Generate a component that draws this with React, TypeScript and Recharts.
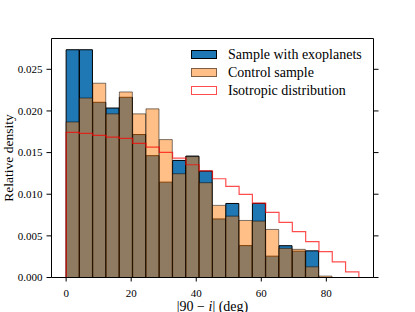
import React from 'react';
import { ComposedChart, Bar, Line, XAxis, YAxis, Legend } from 'recharts';

const binEdges = [0, 4.09, 8.18, 12.27, 16.36, 20.45, 24.55, 28.64, 32.73, 36.82, 40.91, 45, 49.09, 53.18, 57.27, 61.36, 65.45, 69.55, 73.64, 77.73, 81.82, 85.91, 90];
const sampleWithExoplanets = [0.02735, 0.02735, 0.02104, 0.02035, 0.02164, 0.01717, 0.01463, 0.01145, 0.01406, 0.01458, 0.01278, 0.00703, 0.00889, 0.00383, 0.0089, 0.00256, 0.00382, 0.00316, 0.0032, 0, 0, 0];
const controlSample = [0.01868, 0.02155, 0.02333, 0.01965, 0.02228, 0.01965, 0.02025, 0.01656, 0.01246, 0.01452, 0.01138, 0.00866, 0.00737, 0.00685, 0.00677, 0.00577, 0.0035, 0.00338, 0.00128, 0.00017, 0, 0];
const isotropic = [0.01742, 0.0173, 0.01706, 0.01686, 0.0167, 0.0161, 0.01566, 0.01502, 0.01434, 0.01354, 0.0128, 0.01186, 0.01095, 0.00999, 0.00892, 0.00783, 0.00663, 0.00551, 0.00431, 0.00311, 0.00188, 0.00067];
const xTicks = [0, 20, 40, 60, 80];
const yTicks = [0, 0.005, 0.01, 0.015, 0.02, 0.025];
const legendItems = ['Sample with exoplanets', 'Control sample', 'Isotropic distribution'];

const barData = sampleWithExoplanets.map((v, i) => ({
  x: (binEdges[i] + binEdges[i + 1]) / 2,
  sample: v,
  control: controlSample[i],
}));
const stepData = [
  { x: binEdges[0], iso: 0 },
  ...isotropic.map((v, i) => ({ x: binEdges[i], iso: v })),
  { x: binEdges[binEdges.length - 1], iso: 0 },
];

const FONT = 'Liberation Serif, DejaVu Serif, serif';
const X_DOMAIN: [number, number] = [-4.5, 94.5];
const Y_DOMAIN: [number, number] = [0, 0.0287];

const patchStyles: React.CSSProperties[] = [
  { background: '#1f77b4', border: '1px solid #000' },
  { background: 'rgba(255,127,14,0.5)', border: '1px solid rgba(0,0,0,0.5)' },
  { background: '#fff', border: '1px solid rgba(255,0,0,0.7)' },
];

const LegendContent = () => (
  <div style={{ fontFamily: FONT, fontSize: 14, color: '#000' }}>
    {legendItems.map((name, i) => (
      <div key={name} style={{ display: 'flex', alignItems: 'center', height: 18, whiteSpace: 'nowrap' }}>
        <div style={{ width: 26, height: 9, boxSizing: 'border-box', flex: 'none', ...patchStyles[i] }} />
        <span style={{ marginLeft: 11, lineHeight: '18px', fontFamily: FONT }}>{name}</span>
      </div>
    ))}
  </div>
);

const YLabel = () => {
  const x = 12.5;
  const y = 38.5 + 239 / 2;
  return (
    <text x={x} y={y} transform={`rotate(-90, ${x}, ${y})`} textAnchor="middle" style={{ fontFamily: FONT, fontSize: 13.5 }} fill="#000">
      Relative density
    </text>
  );
};

const XLabel = () => {
  const x = 51.5 + 322 / 2;
  const y = 310.5;
  return (
    <text x={x} y={y} textAnchor="middle" style={{ fontFamily: FONT, fontSize: 14 }} fill="#000">
      <tspan>|90 − </tspan>
      <tspan fontStyle="italic">i</tspan>
      <tspan>| (deg)</tspan>
    </text>
  );
};

const NoTick = () => <g />;

export default function App() {
  const tickStyle = { fill: '#000', fontSize: 11, fontFamily: FONT, style: { fontFamily: FONT } };
  return (
    <div style={{ position: 'absolute', left: 0, top: 0, width: 415, height: 312, fontFamily: FONT }}>
      <ComposedChart
        width={415}
        height={312}
        data={barData}
        margin={{ top: 37.5, right: 0, bottom: 0, left: 0 }}
        barCategoryGap={0}
        barGap={0}
        style={{ fontFamily: FONT }}
      >
        <XAxis
          xAxisId="blue"
          dataKey="x"
          type="number"
          domain={X_DOMAIN}
          ticks={xTicks}
          allowDataOverflow
          height={34.5}
          stroke="#000"
          tickSize={4}
          tickMargin={8}
          tick={tickStyle}
          label={<XLabel />}
        />
        <XAxis
          xAxisId="top"
          orientation="top"
          dataKey="x"
          type="number"
          domain={X_DOMAIN}
          ticks={xTicks}
          allowDataOverflow
          height={1}
          stroke="#000"
          tick={NoTick}
          tickLine={false}
        />
        <XAxis xAxisId="red" dataKey="x" type="number" domain={X_DOMAIN} allowDataOverflow hide />
        <YAxis
          yAxisId="left"
          type="number"
          domain={Y_DOMAIN}
          ticks={yTicks}
          allowDataOverflow
          width={51.5}
          stroke="#000"
          tickSize={5}
          tickMargin={4}
          tick={tickStyle}
          tickFormatter={(v: number) => v.toFixed(3)}
          label={<YLabel />}
        />
        <YAxis
          yAxisId="right"
          orientation="right"
          type="number"
          domain={Y_DOMAIN}
          ticks={yTicks}
          allowDataOverflow
          width={41.5}
          stroke="#000"
          tickSize={5}
          tick={NoTick}
        />
        <Bar
          xAxisId="blue"
          yAxisId="left"
          dataKey="sample"
          name="Sample with exoplanets"
          fill="#1f77b4"
          stroke="#000"
          strokeWidth={1}
          isAnimationActive={false}
        />
        <Bar
          xAxisId="top"
          yAxisId="left"
          dataKey="control"
          name="Control sample"
          fill="#ff7f0e"
          fillOpacity={0.5}
          stroke="#000"
          strokeOpacity={0.5}
          strokeWidth={1}
          isAnimationActive={false}
        />
        <Line
          xAxisId="red"
          yAxisId="right"
          data={stepData}
          dataKey="iso"
          name="Isotropic distribution"
          type="stepAfter"
          stroke="#ff0000"
          strokeOpacity={0.7}
          strokeWidth={1.2}
          dot={false}
          activeDot={false}
          isAnimationActive={false}
        />
        <Legend
          layout="horizontal"
          verticalAlign="middle"
          align="center"
          content={<LegendContent />}
          wrapperStyle={{ left: 191, top: 45.5, width: 200, height: 54 }}
        />
      </ComposedChart>
    </div>
  );
}
